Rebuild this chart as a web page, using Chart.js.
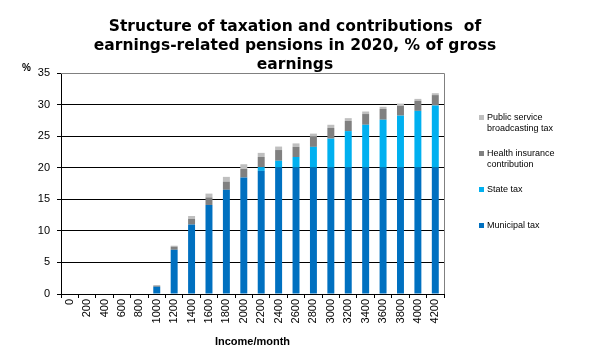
<!DOCTYPE html>
<html>
<head>
<meta charset="utf-8">
<script src="https://cdn.jsdelivr.net/npm/chart.js@4.4.1/dist/chart.umd.min.js"></script>
<style>
  html, body { margin: 0; padding: 0; background: #ffffff; }
  #wrap { width: 592px; height: 355px; position: relative; }
</style>
</head>
<body>
<div id="wrap"><canvas id="c" width="592" height="355"></canvas></div>
<script>
const categories = ['0','200','400','600','800','1000','1200','1400','1600','1800','2000','2200','2400','2600','2800','3000','3200','3400','3600','3800','4000','4200'];
const municipalTax = [0,0,0,0,0,1.15,7.0,11.0,14.1,16.5,18.45,19.5,20,20,20,20,20,20,20,20,20,20];
const stateTax = [0,0,0,0,0,0,0,0,0,0,0,0.6,1.1,1.7,3.3,4.6,5.8,6.8,7.6,8.25,9.0,9.85];
const healthInsurance = [0,0,0,0,0,0.2,0.5,0.9,1.2,1.3,1.35,1.6,1.7,1.6,1.6,1.7,1.6,1.7,1.7,1.55,1.6,1.65];
const broadcastingTax = [0,0,0,0,0,0,0.15,0.45,0.6,0.75,0.75,0.65,0.55,0.55,0.5,0.5,0.45,0.4,0.35,0.35,0.3,0.3];
const yTicks = [0,5,10,15,20,25,30,35];
const titleLines = ['Structure of taxation and contributions  of', 'earnings-related pensions in 2020, % of gross', 'earnings'];
const legendItems = [
  { lines: ['Public service', 'broadcasting tax'], color: '#BFBFBF' },
  { lines: ['Health insurance', 'contribution'], color: '#808080' },
  { lines: ['State tax'], color: '#00B0F0' },
  { lines: ['Municipal tax'], color: '#0070C0' }
];

const decorPlugin = {
  id: 'decor',
  afterDraw(chart) {
    const ctx = chart.ctx;
    const a = chart.chartArea;
    ctx.save();
    ctx.strokeStyle = '#808080';
    ctx.lineWidth = 1;
    ctx.beginPath();
    ctx.moveTo(a.left, a.top + 0.5);
    ctx.lineTo(a.right + 0.5, a.top + 0.5);
    ctx.lineTo(a.right + 0.5, a.bottom);
    ctx.stroke();
    ctx.fillStyle = '#000000';
    ctx.font = 'bold 15.5px "DejaVu Sans"';
    ctx.textAlign = 'center';
    ctx.textBaseline = 'alphabetic';
    const baselines = [31, 50, 69];
    titleLines.forEach((t, i) => ctx.fillText(t, 295, baselines[i]));
    ctx.font = 'bold 10px "Liberation Sans"';
    ctx.textAlign = 'left';
    ctx.textBaseline = 'middle';
    ctx.fillText('%', 22, 68);
    const itemY = [117, 153, 189, 225];
    ctx.font = '9px "Liberation Sans"';
    legendItems.forEach((it, i) => {
      ctx.fillStyle = it.color;
      ctx.fillRect(479, itemY[i] - 2, 5, 5);
      ctx.fillStyle = '#000000';
      it.lines.forEach((ln, j) => ctx.fillText(ln, 487, itemY[i] + 0.5 + j * 11.3));
    });
    ctx.restore();
  }
};

new Chart(document.getElementById('c'), {
  type: 'bar',
  data: {
    labels: categories,
    datasets: [
      { label: 'Municipal tax', data: municipalTax, backgroundColor: '#0070C0' },
      { label: 'State tax', data: stateTax, backgroundColor: '#00B0F0' },
      { label: 'Health insurance contribution', data: healthInsurance, backgroundColor: '#808080' },
      { label: 'Public service broadcasting tax', data: broadcastingTax, backgroundColor: '#BFBFBF' }
    ]
  },
  options: {
    responsive: false,
    animation: false,
    devicePixelRatio: 1,
    layout: { padding: { left: 0, right: 148, top: 73, bottom: 0 } },
    datasets: { bar: { barPercentage: 1, categoryPercentage: 0.4 } },
    plugins: {
      legend: { display: false },
      title: { display: false },
      tooltip: { enabled: false }
    },
    scales: {
      x: {
        stacked: true,
        offset: true,
        grid: { display: true, offset: true, drawOnChartArea: false, drawTicks: true, tickLength: 4, color: '#000000' },
        border: { display: true, color: '#000000' },
        ticks: { color: '#000000', font: { family: '"Liberation Sans"', size: 11 }, minRotation: 90, maxRotation: 90, autoSkip: false, padding: 1 },
        title: { display: true, text: 'Income/month', color: '#000000', font: { family: '"Liberation Sans"', size: 11, weight: 'bold' }, padding: { top: 0, bottom: 6 } },
        afterFit(s) { s.height = 61; }
      },
      y: {
        stacked: true,
        min: 0, max: 35,
        afterBuildTicks(s) { s.ticks = yTicks.map(v => ({ value: v })); },
        grid: { color: (c) => (c.tick && c.tick.value === 35) ? '#808080' : '#000000', tickLength: 4, tickColor: '#000000' },
        border: { display: true, color: '#000000' },
        ticks: { color: '#000000', font: { family: '"Liberation Sans"', size: 11 }, padding: 7 },
        afterFit(s) { s.width = 61; }
      }
    }
  },
  plugins: [decorPlugin]
});
</script>
</body>
</html>
